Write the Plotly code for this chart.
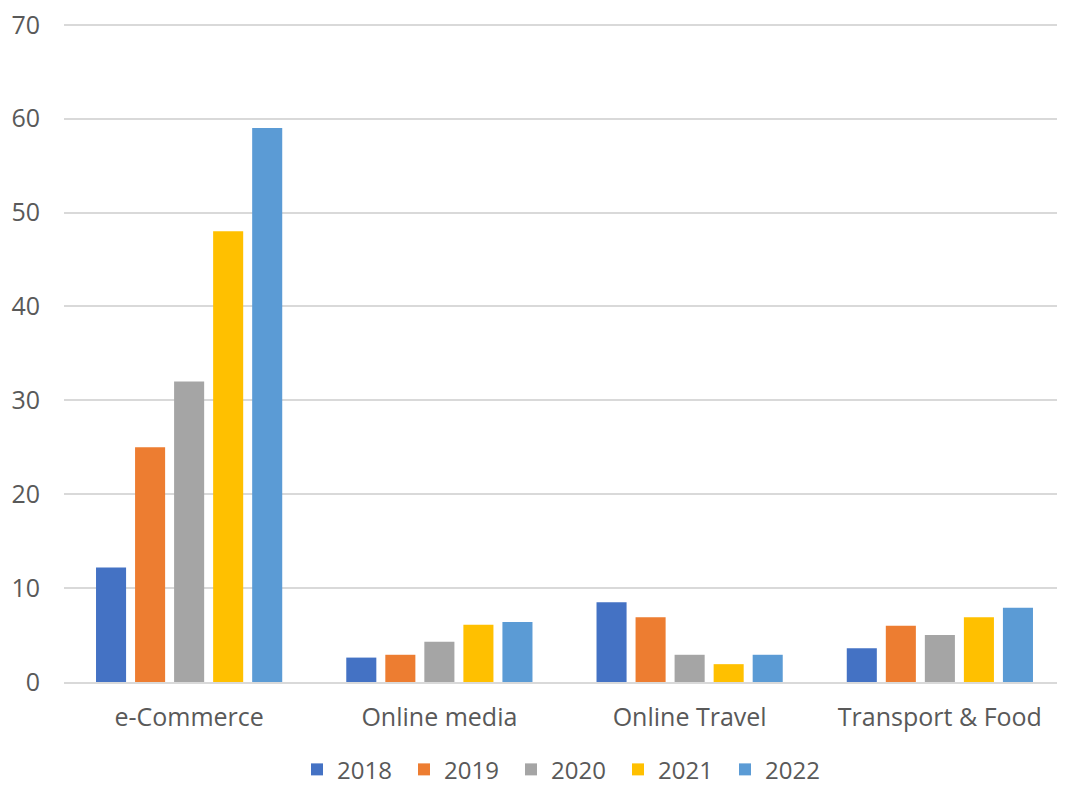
import plotly.graph_objects as go

# data

categorias = ["e-Commerce", "Online media", "Online Travel", "Transport & Food"]
anios = ["2018", "2019", "2020", "2021", "2022"]

v2018 = [12.2, 2.6, 8.5, 3.6]
v2019 = [25.0, 2.9, 6.9, 6.0]
v2020 = [32.0, 4.3, 2.9, 5.0]
v2021 = [48.0, 6.1, 1.9, 6.9]
v2022 = [59.0, 6.4, 2.9, 7.9]

valores = [v2018, v2019, v2020, v2021, v2022]
colores = ["#4472c4", "#ed7d31", "#a5a5a5", "#ffc000", "#5b9bd5"]

# grafico

fig = go.Figure()

for anio, vals, col in zip(anios, valores, colores):
    fig.add_trace(go.Bar(x=categorias, y=vals, name=anio, marker_color=col,
                         marker_line_width=0))

# la pagina deja 8px de margen en el body
fig.update_layout(
    width=1057,
    height=783,
    barmode="group",
    bargap=0.22,
    bargroupgap=0.23,
    plot_bgcolor="white",
    paper_bgcolor="white",
    font=dict(family="Open Sans", size=25, color="#595959"),
    margin=dict(l=56, r=0, t=14, b=109, autoexpand=False),
    xaxis=dict(showline=True, linecolor="#d9d9d9", linewidth=1.5,
               ticks="", tickfont=dict(size=25), ticklabelstandoff=12),
    yaxis=dict(range=[0, 70.3], tickvals=[0, 10, 20, 30, 40, 50, 60, 70],
               showgrid=True, gridcolor="#d9d9d9",
               gridwidth=1.5, zeroline=False, tickfont=dict(size=25),
               ticklabelstandoff=23, ticklabeloverflow="allow"),
    legend=dict(orientation="h", x=0.5, xanchor="center",
                y=-0.133, yanchor="middle", font=dict(size=24), entrywidth=62,
                traceorder="normal"),
)

fig.write_html("out.html")
